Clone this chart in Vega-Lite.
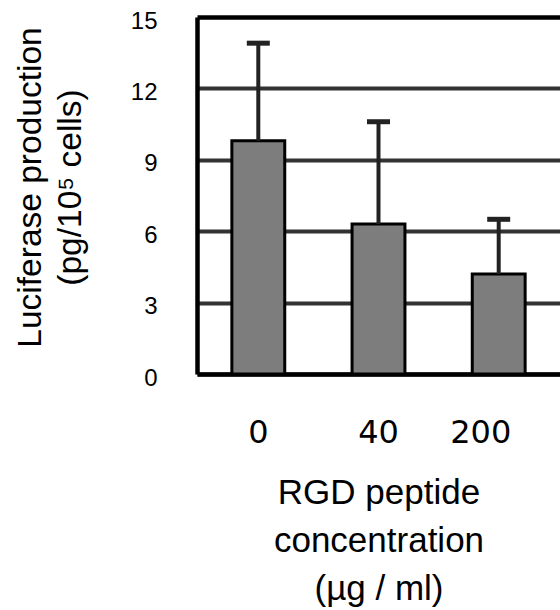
{
  "$schema": "https://vega.github.io/schema/vega-lite/v6.json",
  "width": 363,
  "height": 357,
  "autosize": "none",
  "padding": {"left": 197, "top": 17, "right": 0, "bottom": 236},
  "background": "white",
  "config": {"view": {"stroke": null}, "font": "Liberation Sans"},
  "data": {
    "values": [
      {"conc": "0", "value": 9.8, "upper": 13.9},
      {"conc": "40", "value": 6.3, "upper": 10.6},
      {"conc": "200", "value": 4.2, "upper": 6.5}
    ]
  },
  "encoding": {
    "x": {
      "field": "conc",
      "type": "nominal",
      "sort": null,
      "scale": {"paddingInner": 0.56, "paddingOuter": 0.29},
      "axis": {
        "title": ["RGD peptide", "concentration", "(µg / ml)"],
        "titleFontSize": 35,
        "titleFontWeight": "normal",
        "titleLineHeight": 48,
        "titleBaseline": "alphabetic",
        "titleY": 129,
        "titleColor": "black",
        "labelFont": "DejaVu Sans",
        "labelFontSize": 32,
        "labelBaseline": "alphabetic",
        "labelPadding": 68,
        "labelOffset": {"condition": {"test": "datum.value == '200'", "value": -18}, "value": 0},
        "labelColor": "black",
        "labelAngle": 0,
        "ticks": false,
        "domain": true,
        "domainColor": "black",
        "domainWidth": 4.5
      }
    }
  },
  "layer": [
    {
      "mark": {"type": "bar", "fill": "#7d7d7d", "stroke": "black", "strokeWidth": 3},
      "encoding": {
        "y": {
          "field": "value",
          "type": "quantitative",
          "scale": {"domain": [0, 15], "nice": false},
          "axis": {
            "title": ["Luciferase production", "(pg/10⁵ cells)"],
            "titleFontSize": 33.5,
            "titleFontWeight": "normal",
            "titleLineHeight": 40,
            "titleBaseline": "alphabetic",
            "titleX": -157,
            "titleY": 170,
            "titleColor": "black",
            "labelFont": "Liberation Sans",
            "labelFontSize": 24,
            "labelPadding": 40,
            "labelOffset": 4,
            "labelColor": "black",
            "values": [0, 3, 6, 9, 12, 15],
            "ticks": false,
            "grid": true,
            "gridColor": {"condition": {"test": "datum.value == 15", "value": "black"}, "value": "#333333"},
            "gridWidth": {"condition": {"test": "datum.value == 15", "value": 4.5}, "value": 4},
            "gridOpacity": 1,
            "domain": true,
            "domainColor": "black",
            "domainWidth": 4.5
          }
        }
      }
    },
    {
      "mark": {"type": "rule", "stroke": "#222", "strokeWidth": 4},
      "encoding": {
        "y": {"field": "value", "type": "quantitative", "title": ["Luciferase production", "(pg/10⁵ cells)"]},
        "y2": {"field": "upper"}
      }
    },
    {
      "mark": {"type": "tick", "color": "#222", "size": 23, "thickness": 5, "opacity": 1},
      "encoding": {
        "y": {"field": "upper", "type": "quantitative", "title": ["Luciferase production", "(pg/10⁵ cells)"]}
      }
    }
  ]
}
